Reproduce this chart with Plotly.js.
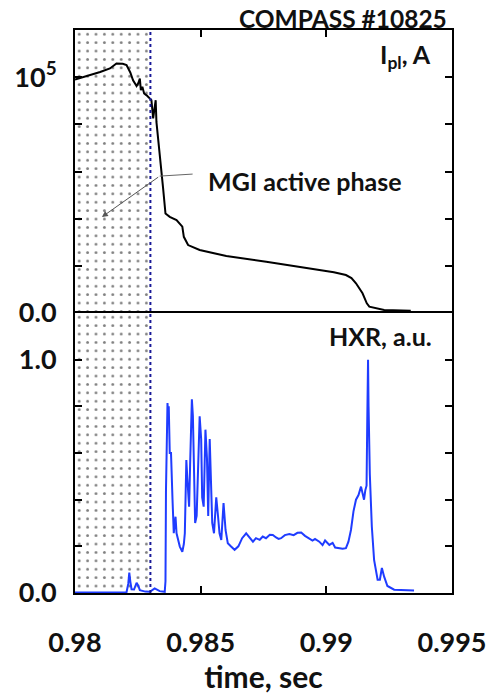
<!DOCTYPE html>
<html>
<head>
<meta charset="utf-8">
<script src="https://cdn.plot.ly/plotly-3.0.1.min.js"></script>
<style>html,body{margin:0;padding:0;background:#fff;}#chart{width:491px;height:698px;}</style>
</head>
<body>
<div id="chart"></div>
<script>
// MGI active phase interval (s)
const mgiStart = 0.98;
const mgiEnd = 0.983;

// Plasma current I_pl (A)
const iplTime = [0.98000, 0.98050, 0.98100, 0.98139, 0.98165, 0.98190, 0.98205, 0.98220, 0.98231, 0.98245,
  0.98252, 0.98258, 0.98262, 0.98268, 0.98275, 0.98285, 0.98295, 0.98304, 0.98311, 0.98316,
  0.98321, 0.98324, 0.98330, 0.98337, 0.98350, 0.98360, 0.98377, 0.98404, 0.98427, 0.98433,
  0.98450, 0.98496, 0.98602, 0.98761, 0.98959, 0.99030, 0.99078, 0.99100, 0.99118, 0.99144,
  0.99161, 0.99171, 0.99230, 0.99336];
const iplValue = [99000, 100500, 102200, 103700, 105800, 105700, 105100, 102000, 98700, 96200,
  97500, 99400, 94500, 95900, 93100, 92300, 91200, 90250, 82500, 86000,
  90250, 81000, 75000, 69000, 53500, 42200, 40800, 39400, 36600, 32300,
  28800, 26700, 24150, 21750, 18500, 17300, 16100, 14800, 12600, 8350,
  4100, 2700, 1270, 980];

// Hard X-ray signal (a.u.)
const hxrTime = [0.98000, 0.98205, 0.98212, 0.98216, 0.98220, 0.98225, 0.98235, 0.98245, 0.98252, 0.98258,
  0.98280, 0.98298, 0.98317, 0.98337, 0.98357, 0.98360, 0.98362, 0.98366, 0.98368, 0.98371,
  0.98373, 0.98377, 0.98382, 0.98388, 0.98393, 0.98397, 0.98400, 0.98404, 0.98410, 0.98417,
  0.98427, 0.98433, 0.98437, 0.98441, 0.98443, 0.98447, 0.98451, 0.98454, 0.98458, 0.98460,
  0.98465, 0.98469, 0.98473, 0.98478, 0.98484, 0.98490, 0.98493, 0.98496, 0.98502, 0.98506,
  0.98512, 0.98516, 0.98519, 0.98525, 0.98530, 0.98536, 0.98541, 0.98546, 0.98553, 0.98558,
  0.98562, 0.98569, 0.98575, 0.98582, 0.98587, 0.98591, 0.98599, 0.98608, 0.98621, 0.98635,
  0.98650, 0.98665, 0.98681, 0.98695, 0.98708, 0.98720, 0.98735, 0.98747, 0.98760, 0.98775,
  0.98787, 0.98800, 0.98810, 0.98820, 0.98835, 0.98853, 0.98870, 0.98885, 0.98900, 0.98915,
  0.98933, 0.98945, 0.98955, 0.98972, 0.98985, 0.98995, 0.99012, 0.99025, 0.99035, 0.99052,
  0.99065, 0.99078, 0.99088, 0.99098, 0.99108, 0.99118, 0.99128, 0.99138, 0.99145, 0.99150,
  0.99155, 0.99160, 0.99163, 0.99166, 0.99168, 0.99173, 0.99181, 0.99190, 0.99204, 0.99213,
  0.99221, 0.99230, 0.99243, 0.99270, 0.99349];
const hxrValue = [0.002, 0.003, 0.04, 0.087, 0.05, 0.016, 0.015, 0.044, 0.03, 0.012,
  0.006, 0.005, 0.02, 0.008, 0.005, 0.05, 0.44, 0.78, 0.814, 0.76,
  0.80, 0.60, 0.60, 0.40, 0.256, 0.30, 0.327, 0.256, 0.227, 0.199,
  0.177, 0.21, 0.256, 0.42, 0.57, 0.49, 0.40, 0.37, 0.55, 0.66,
  0.83, 0.76, 0.456, 0.30, 0.33, 0.51, 0.65, 0.757, 0.66, 0.41,
  0.37, 0.55, 0.70, 0.58, 0.33, 0.66, 0.47, 0.30, 0.256, 0.35,
  0.41, 0.33, 0.256, 0.227, 0.30, 0.385, 0.27, 0.213, 0.199, 0.185,
  0.20, 0.235, 0.256, 0.235, 0.22, 0.235, 0.228, 0.242, 0.235, 0.25,
  0.249, 0.238, 0.232, 0.235, 0.248, 0.253, 0.248, 0.258, 0.259, 0.245,
  0.235, 0.225, 0.232, 0.22, 0.205, 0.225, 0.206, 0.215, 0.195, 0.192,
  0.19, 0.192, 0.22, 0.27, 0.35, 0.40, 0.42, 0.456, 0.42, 0.40,
  0.44, 0.46, 0.75, 1.0, 0.80, 0.51, 0.285, 0.142, 0.057, 0.057,
  0.107, 0.07, 0.03, 0.014, 0.011];

// Tick labels
const xTickVals = [0.98, 0.985, 0.99, 0.995];
const xTickText = ['0.98', '0.985', '0.99', '0.995'];
const iplTickVals = [0, 100000];
const iplTickText = ['0.0', '10<sup>5</sup>'];
const iplMinorVals = [20000, 40000, 60000, 80000];
const hxrTickVals = [0, 1.0];
const hxrTickText = ['0.0', '1.0'];
const hxrMinorVals = [0.2, 0.4, 0.6, 0.8];

const iplMax = 120000;
const hxrMax = 1.2;

const FONT = 'Lato, "Open Sans", sans-serif';
const TXT = '#111';
const dotPattern = {shape: '.', size: 8.4, solidity: 0.09, fgcolor: '#000', bgcolor: 'rgba(0,0,0,0)', fillmode: 'overlay'};

const traces = [
  {x: [mgiStart, mgiEnd, mgiEnd, mgiStart, mgiStart], y: [0, 0, iplMax, iplMax, 0], xaxis: 'x2', yaxis: 'y2',
   mode: 'lines', line: {width: 0}, fill: 'toself', fillcolor: 'rgba(0,0,0,0)', fillpattern: dotPattern, hoverinfo: 'skip'},
  {x: [mgiStart, mgiEnd, mgiEnd, mgiStart, mgiStart], y: [0, 0, hxrMax, hxrMax, 0], xaxis: 'x', yaxis: 'y',
   mode: 'lines', line: {width: 0}, fill: 'toself', fillcolor: 'rgba(0,0,0,0)', fillpattern: dotPattern, hoverinfo: 'skip'},
  {x: iplTime, y: iplValue, xaxis: 'x2', yaxis: 'y2', mode: 'lines', line: {color: '#000', width: 2}},
  {x: hxrTime, y: hxrValue, xaxis: 'x', yaxis: 'y', mode: 'lines', line: {color: '#1f3cff', width: 2}}
];

const split = 280 / 563;
const axisCommon = {showline: true, linecolor: '#000', linewidth: 2, ticks: 'inside', ticklen: 7, tickwidth: 2,
  tickcolor: '#000', showgrid: false, zeroline: false, fixedrange: true};
const minorCommon = {ticks: 'inside', ticklen: 7, tickwidth: 2, tickcolor: '#000', showgrid: false};
const tickFont = {family: FONT, size: 27, weight: 'bold', color: TXT};

const layout = {
  width: 491, height: 698,
  margin: {l: 75, r: 39, t: 30, b: 105},
  paper_bgcolor: '#fff', plot_bgcolor: '#fff',
  showlegend: false,
  font: {family: FONT, color: TXT},
  xaxis: Object.assign({}, axisCommon, {anchor: 'y', domain: [0, 1], range: [0.98, 0.995], mirror: true,
    tickmode: 'array', tickvals: xTickVals, ticktext: xTickText, ticklabelstandoff: 25,
    tickfont: tickFont,
    title: {text: 'time, sec', font: {family: FONT, size: 30, weight: 'bold', color: TXT}, standoff: 6}}),
  yaxis: Object.assign({}, axisCommon, {anchor: 'x', domain: [0, split], range: [0, hxrMax], mirror: 'ticks',
    tickmode: 'array', tickvals: hxrTickVals, ticktext: hxrTickText, ticklabelstandoff: 11,
    minor: Object.assign({tickmode: 'array', tickvals: hxrMinorVals}, minorCommon),
    tickfont: tickFont}),
  xaxis2: Object.assign({}, axisCommon, {anchor: 'y2', domain: [0, 1], range: [0.98, 0.995], side: 'top', mirror: false,
    matches: 'x', tickmode: 'array', tickvals: xTickVals, showticklabels: false}),
  yaxis2: Object.assign({}, axisCommon, {anchor: 'x2', domain: [split, 1], range: [0, iplMax], mirror: 'ticks',
    tickmode: 'array', tickvals: iplTickVals, ticktext: iplTickText, ticklabelstandoff: 11,
    minor: Object.assign({tickmode: 'array', tickvals: iplMinorVals}, minorCommon),
    tickfont: tickFont}),
  shapes: [
    {type: 'line', xref: 'x', yref: 'paper', x0: mgiEnd, x1: mgiEnd, y0: 0, y1: 1,
     line: {color: '#1a1a99', width: 2, dash: 'dot'}},
    {type: 'line', xref: 'x2', yref: 'y2', x0: 0.98337, y0: 58050, x1: 0.98468, y1: 58900,
     line: {color: '#666', width: 1}}
  ],
  annotations: [
    {xref: 'paper', yref: 'paper', x: 0.992, y: 1.0213, xanchor: 'right', yanchor: 'middle', showarrow: false,
     text: 'COMPASS #10825', font: {family: FONT, size: 24.5, weight: 'bold', color: TXT}},
    {xref: 'paper', yref: 'paper', x: 0.9496, y: 0.954, xanchor: 'right', yanchor: 'middle', showarrow: false,
     text: 'I<sub>pl</sub>, A', font: {family: FONT, size: 25, weight: 'bold', color: TXT}},
    {xref: 'paper', yref: 'paper', x: 0.952, y: 0.4565, xanchor: 'right', yanchor: 'middle', showarrow: false,
     text: 'HXR, a.u.', font: {family: FONT, size: 25, weight: 'bold', color: TXT}},
    {xref: 'paper', yref: 'paper', x: 0.611, y: 0.732, xanchor: 'center', yanchor: 'middle', showarrow: false,
     text: 'MGI active phase', font: {family: FONT, size: 25, weight: 'bold', color: TXT}},
    {xref: 'x2', yref: 'y2', x: 0.98107, y: 40700, axref: 'x2', ayref: 'y2', ax: 0.98337, ay: 58050,
     text: '', showarrow: true, arrowhead: 2, arrowsize: 1.2, arrowwidth: 1, arrowcolor: '#555'}
  ]
};

Plotly.newPlot('chart', traces, layout, {staticPlot: true, displayModeBar: false});
</script>
</body>
</html>
